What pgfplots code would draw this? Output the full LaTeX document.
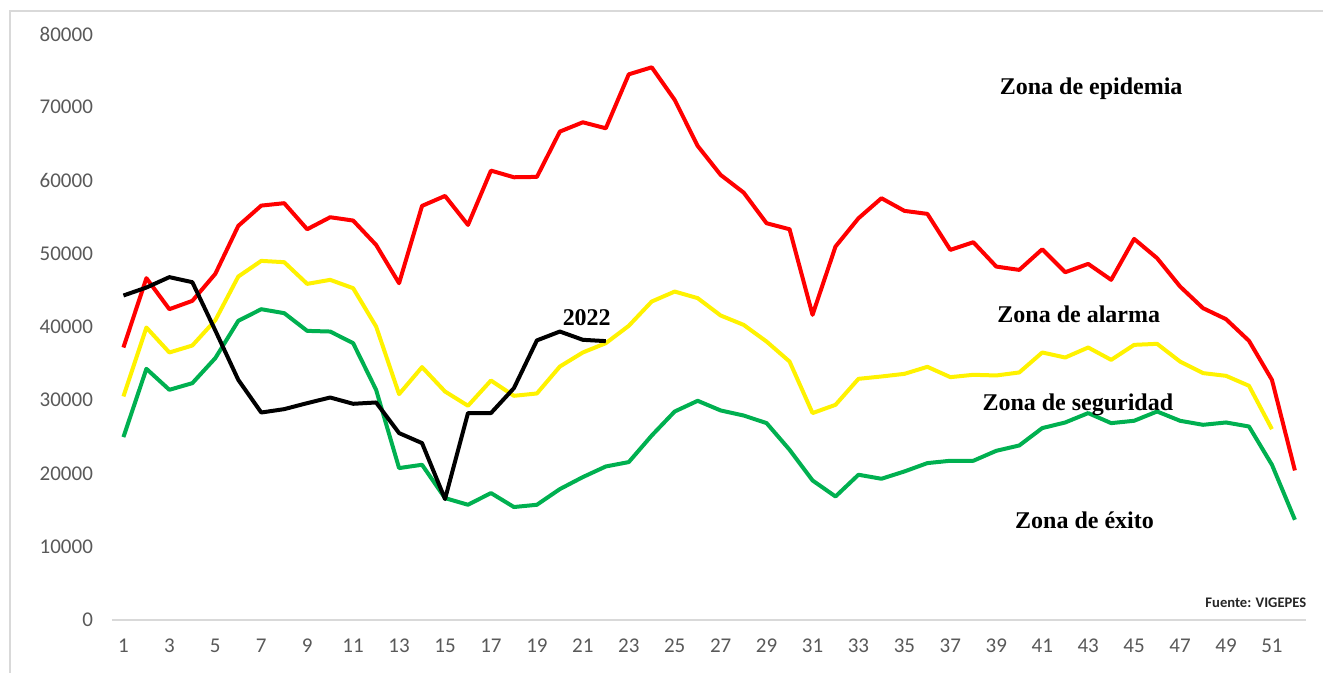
\documentclass[border=0pt]{standalone}
\usepackage{fontspec}
\setmainfont{Carlito}
\newfontfamily\zonafont{Liberation Serif}
\usepackage{pgfplots}
\pgfplotsset{compat=1.18}
\definecolor{tickgray}{RGB}{89,89,89}
\definecolor{framegray}{RGB}{217,217,217}
\definecolor{zgreen}{RGB}{0,176,80}
\begin{document}
\begin{tikzpicture}
\begin{axis}[
  at={(0,0)}, anchor=south west,
  scale only axis, width=597.5pt, height=293pt,
  xmin=0.5, xmax=52.5, ymin=0, ymax=80000,
  xtick={1,3,...,51}, ytick={0,10000,...,80000},
  axis x line*=bottom, axis y line*=left,
  x axis line style={draw=framegray, line width=0.8pt, -},
  y axis line style={draw=none},
  major tick length=0pt,
  ticklabel style={font=\fontsize{10.5}{12}\selectfont, text=tickgray},
  /pgf/number format/assume math mode=true,
  scaled y ticks=false,
  yticklabel style={/pgf/number format/1000 sep={}, xshift=-6pt},
  xticklabel style={yshift=-6pt},
  clip=false,
]
\addplot[red, line width=2pt, line join=round] coordinates {
(1,37180)(2,46650)(3,42410)(4,43550)(5,47240)(6,53790)(7,56560)(8,56890)(9,53330)(10,54970)
(11,54520)(12,51190)(13,45960)(14,56520)(15,57880)(16,53920)(17,61340)(18,60430)(19,60480)(20,66670)
(21,67940)(22,67120)(23,74490)(24,75450)(25,70990)(26,64710)(27,60750)(28,58340)(29,54150)(30,53330)
(31,41640)(32,50970)(33,54830)(34,57570)(35,55840)(36,55430)(37,50510)(38,51560)(39,48230)(40,47780)
(41,50600)(42,47460)(43,48600)(44,46420)(45,52010)(46,49380)(47,45510)(48,42550)(49,41050)(50,38090)
(51,32760)(52,20390)};
\addplot[yellow, line width=2pt, line join=round] coordinates {
(1,30490)(2,39910)(3,36500)(4,37450)(5,40900)(6,46870)(7,49010)(8,48830)(9,45870)(10,46420)
(11,45280)(12,40050)(13,30810)(14,34500)(15,31170)(16,29220)(17,32670)(18,30580)(19,30900)(20,34580)
(21,36500)(22,37770)(23,40140)(24,43460)(25,44820)(26,43920)(27,41550)(28,40270)(29,37990)(30,35260)
(31,28220)(32,29350)(33,32900)(34,33220)(35,33580)(36,34540)(37,33130)(38,33450)(39,33360)(40,33770)
(41,36500)(42,35810)(43,37180)(44,35490)(45,37540)(46,37680)(47,35260)(48,33680)(49,33310)(50,31950)
(51,26030)};
\addplot[zgreen, line width=2pt, line join=round] coordinates {
(1,24940)(2,34270)(3,31400)(4,32310)(5,35730)(6,40820)(7,42410)(8,41870)(9,39450)(10,39360)
(11,37770)(12,31400)(13,20710)(14,21160)(15,16610)(16,15700)(17,17300)(18,15390)(19,15700)(20,17840)
(21,19480)(22,20930)(23,21530)(24,25160)(25,28440)(26,29900)(27,28580)(28,27890)(29,26850)(30,23210)
(31,19020)(32,16830)(33,19800)(34,19250)(35,20250)(36,21390)(37,21710)(38,21710)(39,23070)(40,23800)
(41,26170)(42,26940)(43,28220)(44,26850)(45,27170)(46,28440)(47,27170)(48,26620)(49,26940)(50,26390)
(51,21160)(52,13650)};
\addplot[black, line width=2pt, line join=round] coordinates {
(1,44280)(2,45370)(3,46790)(4,46100)(5,39500)(6,32760)(7,28300)(8,28760)(9,29580)(10,30350)
(11,29490)(12,29670)(13,25490)(14,24120)(15,16480)(16,28220)(17,28220)(18,31630)(19,38150)(20,39360)
(21,38230)(22,38050)};
\node[font=\zonafont\bfseries\fontsize{12}{14}\selectfont] at (axis cs:43.13,72590) {Zona de epidemia};
\node[font=\zonafont\bfseries\fontsize{12}{14}\selectfont] at (axis cs:42.59,41770) {Zona de alarma};
\node[font=\zonafont\bfseries\fontsize{12}{14}\selectfont] at (axis cs:42.55,29350) {Zona de seguridad};
\node[font=\zonafont\bfseries\fontsize{12}{14}\selectfont] at (axis cs:42.84,13520) {Zona de éxito};
\node[font=\zonafont\bfseries\fontsize{12}{14}\selectfont] at (axis cs:21.17,41190) {2022};
\node[font=\bfseries\fontsize{7.3}{8}\selectfont, text=black!85] at (axis cs:50.3,2330) {Fuente: VIGEPES};
\end{axis}
\path (-56pt,-26.5pt) rectangle (606pt,310pt);
\draw[framegray, line width=0.6pt] (-51pt,-26.5pt) -- (-51pt,304.5pt) -- (606pt,304.5pt);
\end{tikzpicture}
\end{document}
